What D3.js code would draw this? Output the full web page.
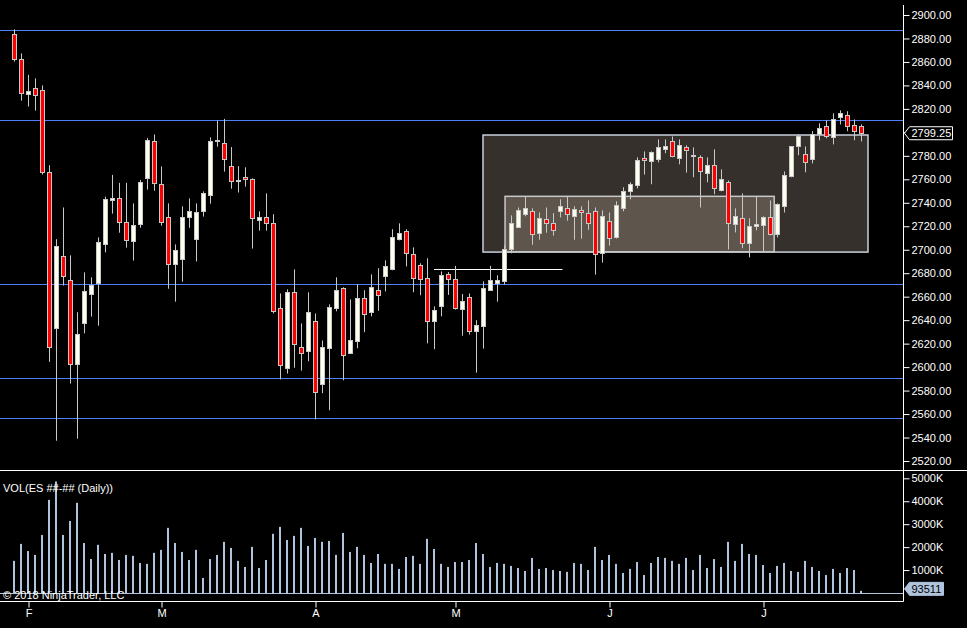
<!DOCTYPE html>
<html>
<head>
<meta charset="utf-8">
<script src="https://cdn.jsdelivr.net/npm/d3@7"></script>
<style>
  body { margin: 0; background: #000; }
  svg { display: block; }
  text { font-family: Arial, "Liberation Sans", sans-serif; font-size: 11px; }
</style>
</head>
<body>
<svg id="chart"></svg>
<script>
// daily ES bars
const opens = [2883.5, 2862.25, 2832.5, 2837.5, 2835.75, 2766, 2633, 2694.5, 2674, 2602.25,
  2637.25, 2662, 2671.25, 2704.5, 2742.75, 2743.75, 2723.25, 2707.25, 2721.75, 2760.75,
  2792.25, 2755.75, 2727.5, 2687.5, 2691.75, 2727.5, 2709, 2732.75, 2746.25, 2792.25,
  2790.75, 2771, 2759, 2761.75, 2760, 2725, 2727.5, 2722.5, 2650, 2599,
  2663.75, 2616.75, 2613.5, 2639, 2585.25, 2616, 2650, 2667, 2611.75, 2622,
  2658.5, 2646.75, 2665.5, 2677.25, 2683.25, 2709, 2715.75, 2696, 2686.75, 2675.75,
  2639, 2651.75, 2679, 2674.75, 2649.75, 2659.5, 2630.5, 2635.25, 2666, 2672,
  2673.75, 2700.25, 2719.75, 2730.75, 2732.75, 2714.5, 2726, 2722.5, 2732.75, 2735.25,
  2728.5, 2733.5, 2731, 2732.75, 2697, 2724.25, 2711, 2735.25, 2749.75, 2755,
  2778, 2775.25, 2777, 2785.5, 2792.25, 2778, 2787.25, 2780, 2778.75, 2765,
  2772, 2750.5, 2757.5, 2721.75, 2726.75, 2705.5, 2720, 2720.75, 2727.5, 2713,
  2737, 2762.5, 2788, 2781.25, 2777, 2798.25, 2805.25, 2795.75, 2812.75, 2814.5,
  2806, 2805.25]
const highs = [2887.75, 2867.25, 2849, 2846, 2840, 2772, 2709, 2736, 2695.25, 2646.75,
  2680.75, 2676.5, 2710.5, 2745.25, 2763.75, 2757, 2757, 2739.5, 2759.5, 2795.25,
  2798.25, 2771, 2739.5, 2704.5, 2737, 2743.75, 2739.5, 2749.75, 2795.75, 2810,
  2811.5, 2787.5, 2771.25, 2770.25, 2760.75, 2732.75, 2748, 2730.25, 2662.75, 2666.25,
  2683.25, 2637.25, 2663.75, 2645.75, 2622.75, 2653.5, 2676.5, 2668, 2657.75, 2670.5,
  2665.5, 2679, 2684.25, 2691, 2717.5, 2722.5, 2717.5, 2702, 2688.5, 2692.75,
  2651.75, 2681.5, 2681, 2686.25, 2662.25, 2662.75, 2640, 2673, 2686.25, 2678.25,
  2703.75, 2729.25, 2736, 2745.25, 2735.25, 2731.75, 2736, 2731.25, 2743, 2745.25,
  2737, 2737, 2742, 2736, 2733.5, 2731.75, 2741.25, 2753.25, 2757.5, 2778.75,
  2783.75, 2783.75, 2794, 2794, 2796.5, 2794, 2789, 2787.25, 2780.5, 2778.75,
  2785.5, 2768.5, 2759, 2735.25, 2748, 2726.75, 2745.5, 2728.5, 2742, 2739.5,
  2766.75, 2788, 2798.25, 2788, 2801, 2807.75, 2810.25, 2816.25, 2818.75, 2818,
  2811, 2806.75]
const lows = [2860.25, 2827, 2822, 2818.5, 2764, 2604.5, 2537.25, 2669.5, 2586, 2539,
  2628.75, 2643, 2635.25, 2697.75, 2730.75, 2714.5, 2701.75, 2690.75, 2718.75, 2751.25,
  2750.25, 2720.5, 2666.75, 2655.75, 2672.75, 2718.75, 2690, 2728.25, 2739.25, 2787.75,
  2766.5, 2752, 2748.75, 2753.75, 2701, 2716.25, 2716.25, 2645.75, 2589.5, 2594.5,
  2599.5, 2597, 2605, 2555.5, 2577.75, 2563.25, 2647.5, 2588.75, 2611.5, 2616,
  2629.75, 2643.25, 2648, 2664.5, 2682.5, 2708, 2685.75, 2663.75, 2661.25, 2620.25,
  2615.25, 2643.25, 2661.5, 2649, 2626.75, 2627.75, 2595.25, 2615.75, 2665, 2655.75,
  2670.25, 2697, 2719, 2728.5, 2704.25, 2708.5, 2714.5, 2712, 2727.5, 2724.75,
  2708.5, 2709.5, 2717, 2678.75, 2689, 2703.5, 2709.5, 2732.75, 2743, 2752.25,
  2764, 2755.75, 2774.5, 2782.25, 2778.75, 2772.75, 2765.75, 2761.75, 2736, 2757.5,
  2747.25, 2749.75, 2700.25, 2714.75, 2701.25, 2693.5, 2716.5, 2698.25, 2712.25, 2710.5,
  2731.75, 2761.75, 2780.5, 2766, 2773.5, 2793.25, 2795, 2789.75, 2806.75, 2801,
  2793.25, 2792.25]
const closes = [2862.25, 2833.25, 2835, 2831.5, 2766, 2616.75, 2703, 2677.25, 2602.25, 2628,
  2664.5, 2670.25, 2706.25, 2743, 2743.75, 2723.25, 2708, 2720.75, 2757.5, 2793.25,
  2756.5, 2723.25, 2687.5, 2699.5, 2727.5, 2732.75, 2731.75, 2748, 2792.25, 2793.25,
  2777, 2758.25, 2759.25, 2760, 2726.75, 2727.5, 2722.5, 2647.5, 2601.5, 2663.75,
  2619.5, 2611.75, 2646.75, 2578.5, 2616.75, 2651, 2665.5, 2610, 2622.75, 2658.5,
  2645, 2668, 2661.25, 2685.75, 2710.5, 2714, 2697, 2675.75, 2674.75, 2639,
  2648.5, 2678.25, 2675.25, 2650.75, 2656, 2631, 2635.5, 2667, 2674, 2674,
  2700.25, 2722.5, 2733.5, 2735.25, 2713, 2726.75, 2722.5, 2716.5, 2737, 2730.25,
  2734.5, 2731.75, 2722.5, 2696, 2728.5, 2709.75, 2737.75, 2749.75, 2755.75, 2776.25,
  2776.25, 2783, 2787.25, 2788, 2779.5, 2789, 2784.75, 2780.5, 2766.75, 2772,
  2752.25, 2760, 2722.5, 2728.5, 2705.5, 2720, 2721.75, 2727.5, 2713, 2738.75,
  2763.5, 2788, 2796.5, 2774.5, 2798.25, 2803.5, 2796.5, 2811, 2816.25, 2805.25,
  2801, 2799.25]
// volume in thousands of contracts
const volumes = [1400, 2140, 1830, 1660, 2530, 4060, 4860, 2530, 3140, 3930,
  2180, 1480, 2100, 1700, 1750, 1440, 1660, 1620, 1310, 1270,
  1750, 1880, 2840, 2180, 1790, 1440, 1880, 655, 1480, 1660,
  2230, 1965, 1400, 1135, 2010, 1090, 1440, 2580, 2880, 2310,
  2490, 2840, 2050, 2400, 2230, 2270, 1660, 2620, 1790, 2010,
  1660, 1310, 1700, 1270, 1270, 1050, 1570, 1620, 1270, 2360,
  1920, 1270, 1135, 1350, 1350, 1440, 2180, 1700, 1135, 1310,
  1270, 1180, 1090, 960, 1530, 1050, 1090, 1000, 960, 920,
  1310, 1270, 1000, 2010, 1440, 1660, 1270, 873, 1050, 1350,
  786, 1310, 1570, 1530, 1400, 1270, 1530, 1000, 1660, 1090,
  1480, 1135, 2230, 1400, 2140, 1700, 1660, 1220, 873, 1180,
  1310, 960, 920, 1400, 1135, 960, 786, 1050, 873, 1090,
  1000, 93.511]

// month ticks (bar index of first session of the month)
const tickIndex = [2, 21, 43, 63, 85, 107]
const tickLabels = ['F', 'M', 'A', 'M', 'J', 'J']

// drawn objects
const levelLines = [2887, 2810.25, 2670.5, 2590.5, 2556.25]
const zoneFrom = [67, 70.15]
const zoneTo = [122, 108.6]
const zoneHigh = [2797.75, 2745.5]
const zoneLow = [2698, 2698.25]
const rayPrice = 2683.25
const rayFrom = 60
const rayTo = 78.35

const priceTicks = d3.range(2520, 2901, 20)
const volumeTicks = [1000, 2000, 3000, 4000, 5000]

const width = 967
const height = 628
const axisX = 903.5
const zoneFill = ['#35302b', '#5e564c']
const zoneStroke = ['#c8d0dc', '#c8c8c8']

const svg = d3.select('#chart')
  .attr('width', width)
  .attr('height', height)

svg.append('rect')
  .attr('width', width)
  .attr('height', height)
  .attr('fill', '#000')

const x = d3.scaleLinear().domain([0, 121]).range([14, 861])
const y = d3.scaleLinear().domain([2520, 2900]).range([461, 15])
const yVol = d3.scaleLinear().domain([0, 5000]).range([593, 478.3])
const px = i => Math.round(x(i))
const crisp = v => Math.round(v) + 0.5

const price = svg.append('g')

// zones
price.selectAll('rect.zone')
  .data(zoneFrom)
  .join('rect')
  .attr('class', 'zone')
  .attr('x', (d, i) => x(d))
  .attr('width', (d, i) => x(zoneTo[i]) - x(d))
  .attr('y', (d, i) => y(zoneHigh[i]))
  .attr('height', (d, i) => y(zoneLow[i]) - y(zoneHigh[i]))
  .attr('fill', (d, i) => zoneFill[i])
  .attr('stroke', (d, i) => zoneStroke[i])
  .attr('stroke-width', 1.5)

// horizontal levels
price.selectAll('line.level')
  .data(levelLines)
  .join('line')
  .attr('class', 'level')
  .attr('x1', 0)
  .attr('x2', axisX)
  .attr('y1', d => crisp(y(d)))
  .attr('y2', d => crisp(y(d)))
  .attr('stroke', '#4f7fff')
  .attr('stroke-width', 1)

price.append('line')
  .attr('x1', x(rayFrom))
  .attr('x2', x(rayTo))
  .attr('y1', crisp(y(rayPrice)))
  .attr('y2', crisp(y(rayPrice)))
  .attr('stroke', '#ffffff')

// candles
const bars = price.selectAll('g.candle')
  .data(d3.range(closes.length))
  .join('g')
  .attr('class', 'candle')

bars.append('line')
  .attr('x1', i => px(i) + 0.5)
  .attr('x2', i => px(i) + 0.5)
  .attr('y1', i => y(highs[i]))
  .attr('y2', i => y(lows[i]))
  .attr('stroke', '#c8c8c8')

bars.append('rect')
  .attr('x', i => px(i) - 1.5)
  .attr('width', 4)
  .attr('y', i => crisp(y(Math.max(opens[i], closes[i]))))
  .attr('height', i => Math.max(Math.round(y(Math.min(opens[i], closes[i]))) - Math.round(y(Math.max(opens[i], closes[i]))), 1))
  .attr('fill', i => closes[i] < opens[i] ? '#ff0000' : '#fffff0')
  .attr('stroke', '#c8c8c8')

// volume bars
const vol = svg.append('g')
vol.selectAll('rect')
  .data(volumes)
  .join('rect')
  .attr('x', (d, i) => px(i) - 1)
  .attr('width', 2)
  .attr('y', d => yVol(d))
  .attr('height', d => yVol(0) - yVol(d))
  .attr('fill', '#b0c4de')

vol.append('line')
  .attr('x1', 0).attr('x2', axisX)
  .attr('y1', 593.5).attr('y2', 593.5)
  .attr('stroke', '#b0c4de')

// panel frame
svg.append('line')
  .attr('x1', 0).attr('x2', width)
  .attr('y1', 470.5).attr('y2', 470.5)
  .attr('stroke', '#fff')
svg.append('line')
  .attr('x1', 0).attr('x2', axisX)
  .attr('y1', 601.5).attr('y2', 601.5)
  .attr('stroke', '#fff')
svg.append('line')
  .attr('x1', axisX).attr('x2', axisX)
  .attr('y1', 5).attr('y2', 601.5)
  .attr('stroke', '#fff')

// axes
function styleAxis(g) {
  g.select('.domain').remove()
  g.selectAll('.tick line').attr('stroke', '#fff')
  g.selectAll('.tick text').attr('fill', '#fff').style('font-size', '11px')
    .style('font-family', 'Arial, "Liberation Sans", sans-serif')
}

svg.append('g')
  .attr('transform', `translate(${axisX}, 0)`)
  .call(d3.axisRight(y).tickValues(priceTicks).tickFormat(d3.format('.2f')).tickSize(6).tickPadding(2))
  .call(styleAxis)

svg.append('g')
  .attr('transform', `translate(${axisX}, 0)`)
  .call(d3.axisRight(yVol).tickValues(volumeTicks).tickFormat(d => d + 'K').tickSize(6).tickPadding(2))
  .call(styleAxis)

svg.append('g')
  .attr('transform', 'translate(0.5, 601.5)')
  .call(d3.axisBottom(x).tickValues(tickIndex).tickFormat((d, i) => tickLabels[i]).tickSize(6).tickPadding(2))
  .call(styleAxis)

// last value markers
function marker(cy, w, fill, stroke, textFill, label) {
  const g = svg.append('g').attr('transform', `translate(${axisX}, ${cy})`)
  g.append('path')
    .attr('d', `M1,0 L6,-6.5 L${6 + w},-6.5 L${6 + w},6.5 L6,6.5 Z`)
    .attr('fill', fill)
    .attr('stroke', stroke)
  g.append('text')
    .attr('x', 8)
    .attr('dy', '0.35em')
    .attr('fill', textFill)
    .text(label)
}
const lastClose = closes[closes.length - 1]
const lastVol = volumes[volumes.length - 1]
marker(y(lastClose), 43, '#000', '#fff', '#fff', d3.format('.2f')(lastClose))
marker(yVol(lastVol) - 2, 34, '#b0c4de', '#b0c4de', '#000', Math.round(lastVol * 1000))

// labels
svg.append('text')
  .attr('x', 3)
  .attr('y', 492)
  .attr('fill', '#fff')
  .text('VOL(ES ##-## (Daily))')

svg.append('text')
  .attr('x', 3)
  .attr('y', 599)
  .attr('fill', '#fff')
  .text('© 2018 NinjaTrader, LLC')
</script>
</body>
</html>
